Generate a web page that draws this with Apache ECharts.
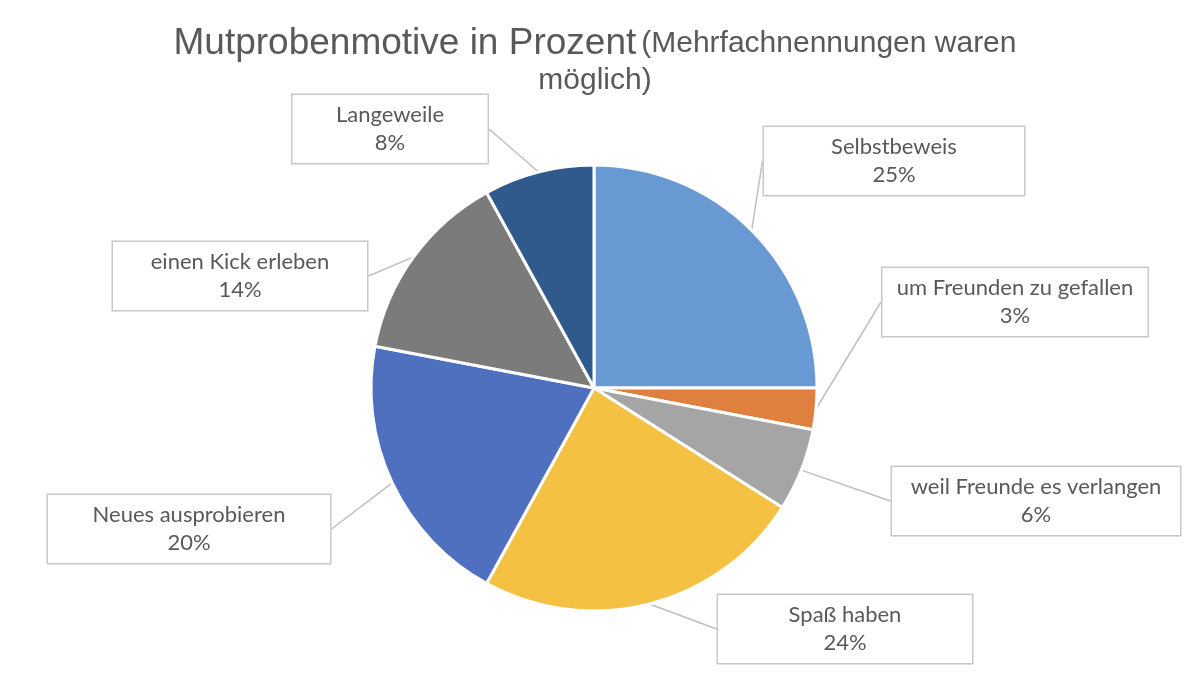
<!DOCTYPE html>
<html>
<head>
<meta charset="utf-8">
<title>Mutprobenmotive in Prozent</title>
<script type="text/javascript" src="https://cdn.jsdelivr.net/npm/echarts@6/dist/echarts.min.js"></script>
<style>
  html, body { margin: 0; padding: 0; background: #fff; }
</style>
</head>
<body>

	<div id="main" style="width: 1190px; height: 676px;"></div>

	<script type="text/javascript">
		// Daten: Motive und Anteile in Prozent
		var motive = ['Selbstbeweis', 'um Freunden zu gefallen', 'weil Freunde es verlangen',
			'Spaß haben', 'Neues ausprobieren', 'einen Kick erleben', 'Langeweile'];
		var anteile = [25, 3, 6, 24, 20, 14, 8];
		var farben = ['#6899d2', '#e0803f', '#a5a5a5', '#f4c142', '#4f6fbf', '#7b7b7b', '#2f5a8b'];

		// Position (Mitte) und Breite der Beschriftungskästen
		var kastenMitte = [[894, 161], [1015, 302], [1036, 501], [845, 629], [189, 529], [240, 276], [390, 129]];
		var kastenBreite = [260, 265, 288, 254, 282, 254, 195];

		var myChart = echarts.init(document.getElementById('main'));

		var daten = [];
		for (var i = 0; i < motive.length; i++) {
			daten.push({
				name : motive[i],
				value : anteile[i],
				itemStyle : { color : farben[i] },
				label : { width : kastenBreite[i] }
			});
		}

		var option = {
			backgroundColor : '#fff',
			title : {
				text : '{a|Mutprobenmotive in Prozent} {b|(Mehrfachnennungen waren}\n{b|möglich)}',
				left : 'center',
				top : 20,
				textStyle : {
					rich : {
						a : { fontFamily : 'Liberation Sans', fontSize : 37, fontWeight : 'normal', color : '#595959', lineHeight : 38 },
						b : { fontFamily : 'Liberation Sans', fontSize : 30, fontWeight : 'normal', color : '#595959', lineHeight : 36 }
					}
				}
			},
			series : [ {
				type : 'pie',
				center : [594, 388],
				radius : 223,
				startAngle : 90,
				clockwise : true,
				percentPrecision : 0,
				animation : false,
				itemStyle : { borderColor : '#fff', borderWidth : 3 },
				label : {
					show : true,
					formatter : '{b}\n{d}%',
					fontFamily : 'Lato',
					fontSize : 22,
					color : '#595959',
					lineHeight : 28,
					align : 'center',
					backgroundColor : '#fff',
					borderColor : '#c8c8c8',
					borderWidth : 1.5,
					padding : [6, 0]
				},
				labelLine : {
					show : true,
					length : 20,
					length2 : 0,
					lineStyle : { color : '#bfbfbf', width : 1.5 }
				},
				labelLayout : function(params) {
					var p = kastenMitte[params.dataIndex];
					return { x : p[0], y : p[1], align : 'center', verticalAlign : 'middle' };
				},
				data : daten
			} ]
		};

		myChart.setOption(option);
	</script>

</body>
</html>
